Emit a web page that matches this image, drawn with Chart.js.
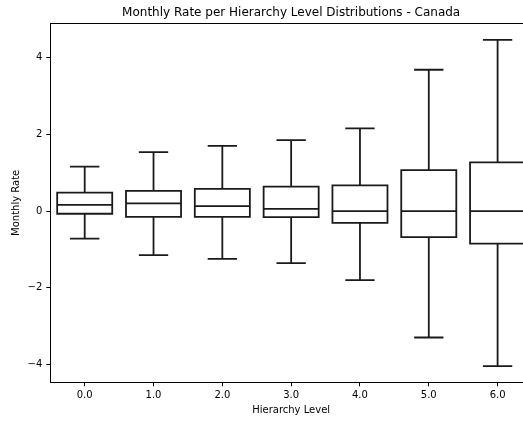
<!DOCTYPE html>
<html>
<head>
<meta charset="utf-8">
<script src="https://cdn.jsdelivr.net/npm/chart.js@4/dist/chart.umd.min.js"></script>
<style>
  html, body { margin: 0; padding: 0; background: #fff; overflow: hidden; }
  canvas { display: block; }
</style>
</head>
<body>
<canvas id="chart" width="560" height="423"></canvas>
<script>
// -------------------------
// Datos
// -------------------------
const categories = ["0.0", "1.0", "2.0", "3.0", "4.0", "5.0", "6.0"];
const whiskerLow = [-0.72, -1.15, -1.25, -1.36, -1.80, -3.30, -4.05];
const q1 = [-0.07, -0.15, -0.15, -0.16, -0.31, -0.68, -0.85];
const median = [0.16, 0.20, 0.13, 0.06, 0.00, 0.00, 0.00];
const q3 = [0.48, 0.53, 0.58, 0.64, 0.67, 1.07, 1.27];
const whiskerHigh = [1.16, 1.54, 1.70, 1.85, 2.16, 3.69, 4.47];
const yTicks = [-4, -2, 0, 2, 4];
// -------------------------

const lineColor = "#1a1a1a";
const boxHalf = 0.4;
const capHalf = 0.2;

// arma los segmentos de cada caja (null corta la línea)
function boxPoints(i) {
  const gap = { x: i, y: null };
  return [
    { x: i - boxHalf, y: q1[i] }, { x: i + boxHalf, y: q1[i] },
    { x: i + boxHalf, y: q3[i] }, { x: i - boxHalf, y: q3[i] },
    { x: i - boxHalf, y: q1[i] }, gap,
    { x: i - boxHalf, y: median[i] }, { x: i + boxHalf, y: median[i] }, gap,
    { x: i, y: q3[i] }, { x: i, y: whiskerHigh[i] }, gap,
    { x: i - capHalf, y: whiskerHigh[i] }, { x: i + capHalf, y: whiskerHigh[i] }, gap,
    { x: i, y: q1[i] }, { x: i, y: whiskerLow[i] }, gap,
    { x: i - capHalf, y: whiskerLow[i] }, { x: i + capHalf, y: whiskerLow[i] }
  ];
}

const datasets = categories.map((c, i) => ({
  label: c,
  data: boxPoints(i),
  showLine: true,
  spanGaps: false,
  borderColor: lineColor,
  borderWidth: 1.8,
  borderJoinStyle: "miter",
  borderCapStyle: "square",
  pointRadius: 0,
  fill: false
}));

const font = { family: "DejaVu Sans", size: 10 };

const ctx = document.getElementById("chart").getContext("2d");
const chart = new Chart(ctx, {
  type: "scatter",
  data: { datasets: datasets },
  options: {
    responsive: false,
    animation: false,
    devicePixelRatio: 1,
    layout: { padding: { left: 0, right: 28, top: 0, bottom: 0 } },
    plugins: {
      legend: { display: false },
      tooltip: { enabled: false },
      title: {
        display: true,
        text: "Monthly Rate per Hierarchy Level Distributions - Canada",
        fullSize: false,
        color: "#000",
        font: { family: "DejaVu Sans", size: 12, weight: "normal" },
        padding: { top: 6, bottom: 3 }
      }
    },
    scales: {
      x: {
        type: "linear",
        position: "bottom",
        min: -0.5,
        max: 6.5,
        afterFit: (s) => { s.height = 40.7; },
        afterBuildTicks: (s) => { s.ticks = categories.map((c, i) => ({ value: i })); },
        border: { display: true, color: "#000", width: 1 },
        grid: { display: true, drawOnChartArea: false, drawTicks: true, tickLength: 4, color: "#000" },
        ticks: {
          color: "#000",
          font: font,
          padding: 3,
          maxRotation: 0,
          autoSkip: false,
          callback: (v) => categories[v]
        },
        title: {
          display: true,
          text: "Hierarchy Level",
          color: "#000",
          font: font,
          padding: { top: 0, bottom: 7 }
        }
      },
      x2: {
        type: "linear",
        position: "top",
        min: -0.5,
        max: 6.5,
        afterFit: (s) => { s.height = 0; },
        border: { display: true, color: "#000", width: 1 },
        grid: { display: false, drawTicks: false },
        ticks: { display: false }
      },
      y: {
        min: -4.47,
        max: 4.9,
        afterFit: (s) => { s.width = 50.3; },
        border: { display: true, color: "#000", width: 1 },
        grid: { display: true, drawOnChartArea: false, drawTicks: true, tickLength: 4, color: "#000" },
        afterBuildTicks: (s) => { s.ticks = yTicks.map((v) => ({ value: v })); },
        ticks: {
          color: "#000",
          font: font,
          padding: 4,
          callback: (v) => String(v).replace("-", "\u2212")
        },
        title: {
          display: true,
          text: "Monthly Rate",
          color: "#000",
          font: font,
          padding: { top: 10, bottom: 4 }
        }
      }
    }
  }
});
</script>
</body>
</html>
